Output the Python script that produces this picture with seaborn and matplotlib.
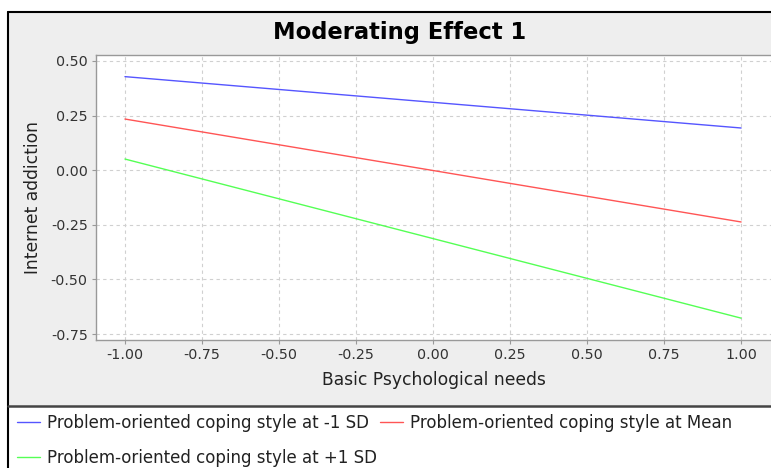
import pandas as pd
import numpy as np
import matplotlib
matplotlib.use('Agg')
import matplotlib.pyplot as plt
from matplotlib.patches import Rectangle
from matplotlib.lines import Line2D
import seaborn as sns

# 数据：调节效应（简单斜率）
x_vals = [-1.0, 1.0]
y_low = [0.428, 0.193]    # -1 SD
y_mean = [0.234, -0.237]  # Mean
y_high = [0.051, -0.677]  # +1 SD
series_names = ['Problem-oriented coping style at -1 SD',
                'Problem-oriented coping style at Mean',
                'Problem-oriented coping style at +1 SD']
x_ticks = [-1.0, -0.75, -0.5, -0.25, 0.0, 0.25, 0.5, 0.75, 1.0]
y_ticks = [0.5, 0.25, 0.0, -0.25, -0.5, -0.75]

df = pd.DataFrame({
    'x': x_vals * 3,
    'y': y_low + y_mean + y_high,
    'series': [series_names[0]] * 2 + [series_names[1]] * 2 + [series_names[2]] * 2,
})
colors = ['#5555FF', '#FF5555', '#55FF55']

sns.set_theme(style="whitegrid")
plt.rcParams['font.family'] = ['DejaVu Sans']

W, H = 771, 468
fig = plt.figure(figsize=(W / 100, H / 100), dpi=100)
fig.patch.set_facecolor('white')

# 灰色背景区域
bg = Rectangle((8 / W, 1 - 406 / H), 1 - 8 / W, (406 - 12) / H,
               transform=fig.transFigure, facecolor='#EEEEEE', edgecolor='none')
bg.set_zorder(-10)
fig.patches.append(bg)
fig.add_artist(Line2D([8 / W, 8 / W], [0, 1 - 12 / H], transform=fig.transFigure,
                      color='black', lw=1.5))
fig.add_artist(Line2D([8 / W, 1], [1 - 12 / H, 1 - 12 / H], transform=fig.transFigure,
                      color='black', lw=1.5))
fig.add_artist(Line2D([8 / W, 1], [1 - 406 / H, 1 - 406 / H], transform=fig.transFigure,
                      color='#444444', lw=1.8))

ax = fig.add_axes([96 / W, 1 - 340 / H, 1 - 96 / W, (340 - 55) / H])
ax.set_zorder(5)
ax.set_facecolor('white')
sns.lineplot(data=df, x='x', y='y', hue='series', palette=colors, ax=ax,
             linewidth=1.0, legend=False)

ax.set_xlim(-1.094, 1.097)
ax.set_ylim(-0.777, 0.527)
ax.set_xticks(x_ticks)
ax.set_yticks(y_ticks)
ax.set_xticklabels([f'{v:.2f}' for v in x_ticks])
ax.set_yticklabels([f'{v:.2f}' for v in y_ticks])
ax.grid(True, color='#D0D0D0', linestyle=(0, (3, 3)), linewidth=0.8)
for side in ['top', 'left', 'bottom']:
    ax.spines[side].set_visible(True)
    ax.spines[side].set_color('#999999')
    ax.spines[side].set_linewidth(1.0)
ax.spines['right'].set_visible(False)
ax.tick_params(axis='both', direction='out', length=3, width=0.8, color='#999999',
               labelsize=10.3, labelcolor='#333333', pad=3, bottom=True, left=True)

ax.set_xlabel('Basic Psychological needs', fontsize=12.3, color='#222222', labelpad=6)
ax.set_ylabel('Internet addiction', fontsize=12.3, color='#222222', labelpad=6)

fig.text(400 / W, 1 - 32 / H, 'Moderating Effect 1', ha='center', va='center',
         fontsize=16.3, fontweight='bold', color='black')

# 图例：按行排列
handles = [Line2D([], [], color=c, lw=1.0) for c in colors]
order = [0, 2, 1]
leg = fig.legend([handles[i] for i in order], [series_names[i] for i in order],
                 loc='upper left', bbox_to_anchor=(12 / W, 1 - 409 / H), ncol=2,
                 frameon=False, fontsize=12, handlelength=1.4, handletextpad=0.4,
                 columnspacing=0.15, labelspacing=1.0, borderaxespad=0, borderpad=0.3)
for t in leg.get_texts():
    t.set_color('#222222')

fig.savefig('out.png', dpi=100)
